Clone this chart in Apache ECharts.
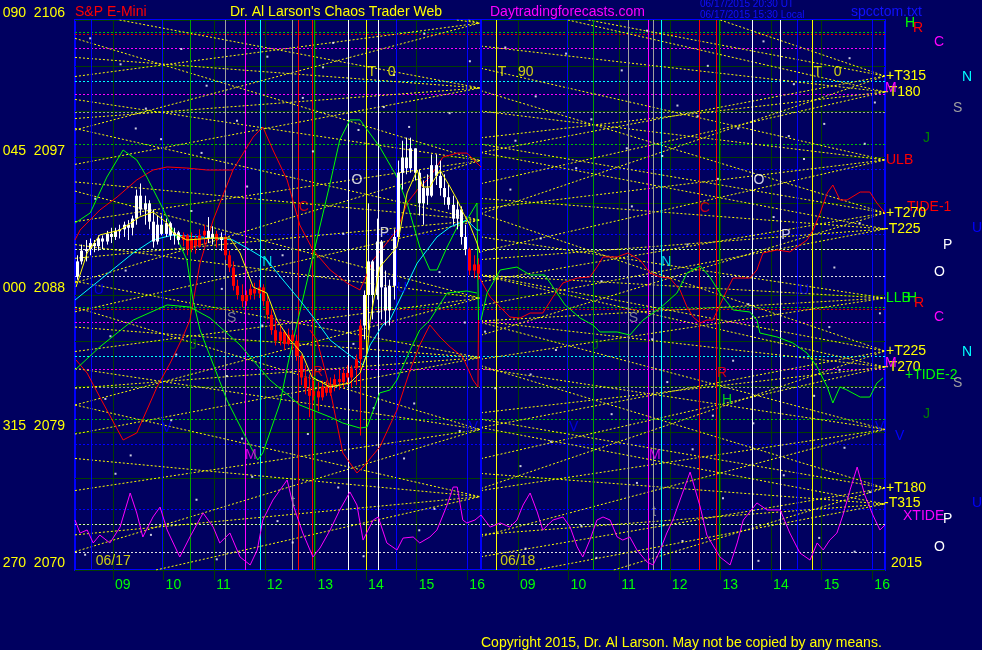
<!DOCTYPE html>
<html><head><meta charset="utf-8">
<script src="https://cdn.jsdelivr.net/npm/echarts@6/dist/echarts.min.js"></script>
<style>html,body{margin:0;padding:0;background:#000060;}#c{width:982px;height:650px;}</style>
</head><body><div id="c"></div>
<script>
// ---------------- DATA ----------------
const hourTicks = [0.75,1.75,2.75,3.75,4.75,5.75,6.75,7.75,8.75,9.75,10.75,11.75,12.75,13.75,14.75,15.75];
const hourLabels = ['09','10','11','12','13','14','15','16','09','10','11','12','13','14','15','16'];
const yLabelValues = [2070, 2079, 2088, 2097, 2106];
const yLabelPrefixes = ['270', '315', '000', '045', '090'];

// 5-minute bars of 06/17: [open, close, low, high]
const day1Bars = [
[2089.2,2090.2,2089.0,2090.6],[2090.2,2090.9,2090.0,2091.3],[2090.9,2091.0,2090.2,2091.6],[2091.0,2091.4,2090.6,2091.7],
[2091.4,2091.2,2090.8,2091.6],[2091.2,2091.7,2090.9,2091.9],[2091.7,2091.5,2091.0,2091.9],[2091.5,2092.0,2091.3,2092.2],
[2092.0,2091.8,2091.4,2092.4],[2091.8,2092.2,2091.6,2092.4],[2092.2,2092.3,2091.7,2092.6],[2092.3,2092.6,2091.8,2092.8],
[2092.6,2092.4,2091.6,2092.9],[2092.4,2093.0,2091.9,2093.2],[2093.0,2094.5,2092.6,2094.9],[2094.5,2093.6,2093.2,2095.3],
[2093.6,2094.0,2092.6,2094.5],[2094.0,2092.8,2092.3,2094.2],[2092.8,2091.5,2091.1,2093.6],[2091.5,2092.6,2091.3,2093.2],
[2092.6,2092.0,2091.9,2093.2],[2092.0,2092.7,2091.8,2093.0],[2092.7,2091.9,2091.6,2092.8],[2091.9,2092.1,2091.3,2092.4],
[2092.1,2091.6,2091.3,2092.2],[2091.6,2091.9,2091.2,2092.1],[2091.9,2091.0,2090.6,2092.0],[2091.0,2091.7,2090.8,2092.1],
[2091.7,2091.2,2090.7,2091.9],[2091.2,2091.9,2091.1,2092.3],[2091.9,2092.2,2091.3,2092.6],[2092.2,2091.7,2091.4,2093.1],
[2091.7,2092.0,2091.3,2092.5],[2092.0,2091.6,2091.1,2092.2],[2091.6,2091.8,2090.9,2092.1],[2091.8,2090.6,2090.3,2091.9],
[2090.6,2089.8,2089.5,2090.9],[2089.8,2088.6,2088.3,2090.2],[2088.6,2088.0,2087.7,2089.0],[2088.0,2087.6,2087.2,2088.7],
[2087.6,2088.0,2087.3,2088.3],[2088.0,2088.4,2087.7,2088.7],[2088.4,2088.1,2087.7,2088.8],[2088.1,2088.5,2087.8,2089.0],
[2088.5,2087.6,2087.3,2088.7],[2087.6,2086.7,2086.4,2088.0],[2086.7,2085.7,2085.4,2087.0],[2085.7,2085.0,2084.7,2086.4],
[2085.0,2085.6,2084.7,2086.0],[2085.6,2084.8,2084.4,2085.7],[2084.8,2085.4,2084.7,2085.8],[2085.4,2085.0,2084.4,2085.7],
[2085.0,2084.0,2083.7,2085.4],[2084.0,2082.6,2082.1,2084.1],[2082.6,2081.9,2081.5,2083.4],[2081.9,2081.4,2080.0,2082.8],
[2081.4,2081.7,2081.1,2082.4],[2081.7,2081.3,2080.4,2082.3],[2081.3,2082.0,2081.1,2082.4],[2082.0,2081.6,2081.4,2082.4],
[2081.6,2082.1,2081.4,2082.6],[2082.1,2082.5,2081.7,2082.8],[2082.5,2082.3,2081.8,2083.1],[2082.3,2082.9,2081.9,2083.2],
[2082.9,2082.6,2082.1,2083.4],[2082.6,2083.2,2081.9,2083.4],[2083.2,2083.8,2082.1,2084.1],[2083.8,2086.0,2078.8,2086.4],
[2086.0,2088.0,2085.1,2088.3],[2088.0,2090.2,2085.7,2094.0],[2090.2,2088.0,2086.4,2090.3],[2088.0,2091.5,2087.7,2093.0],
[2091.5,2088.5,2086.4,2091.6],[2088.5,2087.0,2086.0,2089.6],[2087.0,2088.6,2086.0,2089.0],[2088.6,2091.8,2087.7,2092.3],
[2091.8,2096.0,2091.5,2096.8],[2096.0,2097.0,2094.9,2098.1],[2097.0,2096.3,2095.9,2098.3],[2096.3,2097.6,2096.0,2098.3],
[2097.6,2096.0,2095.5,2097.6],[2096.0,2094.0,2093.2,2096.2],[2094.0,2095.0,2092.6,2095.5],[2095.0,2094.5,2093.9,2095.9],
[2094.5,2096.5,2094.4,2097.2],[2096.5,2095.8,2095.2,2097.2],[2095.8,2095.0,2094.5,2096.8],[2095.0,2094.4,2093.9,2095.9],
[2094.4,2093.9,2093.6,2095.2],[2093.9,2093.0,2092.6,2094.5],[2093.0,2093.6,2092.3,2094.2],[2093.6,2091.8,2091.3,2093.8],
[2091.8,2091.0,2090.6,2092.6],[2091.0,2089.6,2089.3,2091.1],[2089.6,2090.0,2089.1,2090.6],[2090.0,2089.4,2089.0,2090.4]
];
// trend state per bar: W = up-trend (white), R = down-trend (red)
const day1Trend = 'WWWWWWWWWWWWWWWWWWWWWWWWWRRRRRRWWRWRRRRRRRRRRRRRRRRRRRRRRRRRRRRRRRRRWWWWWWWWWWWWWWWWWWWWWWWWWRRR';
const barMinutes = 5;

// curves: [hour index, price]
const yellowLine = [[0.02,2088.52],[0.24,2090.75],[0.49,2091.93],[0.89,2092.25],[1.28,2093.11],[1.54,2093.43],[1.82,2092.71],[1.94,2092.06],[2.21,2091.60],[2.73,2091.73],[3.06,2091.73],[3.26,2090.75],[3.52,2088.52],[3.79,2088.13],[3.99,2086.36],[4.25,2085.05],[4.48,2084.20],[4.68,2082.63],[5.04,2081.98],[5.43,2082.24],[5.63,2082.89],[5.77,2084.20],[5.83,2086.36],[6.02,2089.83],[6.36,2091.14],[6.56,2094.68],[6.76,2096.18],[6.87,2095.07],[7.01,2095.07],[7.21,2096.18],[7.41,2095.07],[7.55,2094.22],[7.66,2093.43],[7.80,2092.58],[7.94,2091.40],[8.00,2090.75]];
const cyanLine = [[0,2087.67],[0.49,2088.98],[1.15,2090.75],[1.54,2091.60],[1.94,2091.93],[2.47,2091.80],[3.12,2091.60],[3.46,2090.95],[3.79,2090.29],[4.11,2088.98],[4.44,2087.67],[4.78,2086.23],[5.04,2085.05],[5.37,2084.20],[5.69,2083.42],[5.83,2084.73],[6.08,2086.04],[6.22,2086.36],[6.76,2090.09],[7.15,2091.80],[7.41,2092.45],[7.74,2092.91],[7.94,2092.25],[8.00,2092.25]];
const greenUpper = [[0,2092.71],[0.30,2093.37],[0.63,2095.72],[0.95,2097.49],[1.22,2096.84],[1.42,2095.72],[1.68,2094.02],[1.94,2092.25],[2.21,2090.29],[2.33,2087.67],[2.47,2085.71],[3.00,2081.13],[3.40,2078.51],[3.61,2077.20],[3.71,2077.66],[4.05,2080.93],[4.21,2083.55],[4.31,2085.05],[5.04,2095.33],[5.23,2098.15],[5.43,2099.46],[5.63,2099.46],[6.02,2097.69],[6.36,2095.72],[6.56,2094.02],[6.81,2091.14],[7.01,2089.64],[7.15,2089.64],[7.35,2091.14],[7.55,2092.45],[7.74,2092.91],[7.94,2094.02],[7.97,2086.36]];
const greenLower = [[0,2083.09],[0.49,2084.60],[1.15,2086.36],[1.82,2087.35],[2.27,2087.21],[2.67,2086.49],[3.26,2084.73],[3.85,2082.44],[4.44,2080.80],[5.04,2080.01],[5.29,2079.62],[5.63,2079.29],[5.77,2079.36],[6.02,2081.59],[6.22,2081.78],[6.36,2082.44],[6.62,2084.40],[6.81,2085.71],[7.01,2086.36],[7.35,2088.13],[7.74,2088.26],[7.94,2088.13]];
const greenDay2 = [[8.02,2086.36],[8.14,2088.13],[8.40,2089.64],[8.73,2089.83],[8.99,2089.31],[9.28,2089.31],[9.48,2088.33],[9.68,2087.35],[9.98,2086.49],[10.23,2086.04],[10.37,2085.58],[10.71,2085.58],[10.96,2085.38],[11.22,2086.36],[11.56,2087.15],[11.89,2088.13],[12.09,2089.44],[12.35,2089.90],[12.54,2089.18],[12.74,2088.13],[13.00,2087.02],[13.33,2086.89],[13.47,2086.36],[13.53,2085.51],[13.87,2085.25],[14.18,2084.86],[14.46,2084.20],[14.66,2083.29],[14.86,2081.98],[14.97,2080.93],[15.11,2081.98],[15.25,2081.78],[15.51,2081.32],[15.70,2081.32],[15.84,2082.24],[15.96,2082.57]];
const redMain = [[0.02,2083.75],[0.24,2082.89],[0.49,2081.32],[0.95,2078.51],[1.22,2078.97],[1.42,2080.47],[1.62,2081.98],[1.88,2083.55],[2.13,2085.25],[2.27,2086.36],[2.47,2090.09],[2.73,2092.91],[3.12,2096.18],[3.52,2098.34],[3.71,2099.00],[3.91,2097.49],[4.19,2095.53],[4.44,2092.58],[4.70,2090.95],[5.04,2089.64],[5.37,2088.79],[5.63,2088.33],[5.89,2090.29],[6.36,2092.25],[6.56,2094.02],[6.76,2094.87],[7.01,2095.72],[7.27,2097.03],[7.55,2097.29],[7.74,2097.29],[7.94,2096.64],[8.02,2096.38]];
const redLow = [[4.64,2085.71],[4.78,2085.05],[5.04,2081.78],[5.29,2077.66],[5.57,2076.35],[5.69,2076.74],[6.02,2078.05],[6.36,2080.47],[6.62,2083.09],[6.81,2084.73],[7.01,2086.04],[7.21,2085.25],[7.41,2084.60],[7.66,2083.94],[7.86,2082.44],[7.96,2081.98],[7.97,2086.36]];
const redArc = [[0,2091.60],[0.10,2092.25],[0.49,2093.56],[0.83,2094.41],[1.22,2095.53],[1.54,2096.18],[1.82,2096.38],[2.21,2096.31],[2.61,2096.18],[2.86,2096.18],[3.12,2096.18]];
const redDay2 = [[7.98,2089.18],[8.20,2087.87],[8.40,2087.21],[8.59,2086.56],[8.79,2086.49],[8.99,2086.82],[9.24,2086.82],[9.44,2087.87],[9.64,2088.79],[9.92,2089.11],[10.17,2089.18],[10.31,2089.83],[10.43,2090.49],[10.71,2090.49],[10.92,2090.75],[11.16,2090.29],[11.36,2089.44],[11.56,2089.18],[11.75,2089.11],[11.95,2088.33],[12.09,2087.21],[12.21,2086.56],[12.35,2086.16],[12.48,2086.36],[12.60,2086.36],[12.88,2088.33],[13.00,2089.11],[13.33,2089.11],[13.47,2089.64],[13.59,2090.75],[13.87,2090.95],[14.12,2090.82],[14.26,2091.14],[14.46,2091.60],[14.58,2092.25],[14.72,2093.37],[14.86,2094.68],[14.97,2095.20],[15.11,2094.22],[15.25,2094.22],[15.51,2094.74],[15.70,2094.74],[15.84,2094.02],[16.00,2093.37]];
const xtide = [[0.0,2073.27],[0.10,2072.42],[0.24,2072.62],[0.36,2071.77],[0.49,2072.29],[0.69,2071.77],[0.89,2072.81],[1.09,2075.04],[1.22,2073.73],[1.34,2072.16],[1.54,2073.47],[1.68,2074.12],[1.82,2072.62],[2.07,2070.85],[2.27,2072.16],[2.53,2073.73],[2.73,2072.81],[2.86,2071.77],[3.06,2072.42],[3.26,2070.85],[3.46,2070.33],[3.60,2071.31],[3.71,2073.27],[3.91,2074.58],[4.19,2075.89],[4.31,2074.25],[4.50,2072.42],[4.70,2070.85],[4.84,2071.44],[5.04,2072.62],[5.23,2073.93],[5.43,2075.11],[5.57,2074.25],[5.69,2071.96],[5.89,2073.27],[5.99,2073.47],[6.16,2071.77],[6.36,2071.31],[6.48,2072.09],[6.68,2072.16],[6.81,2071.77],[7.01,2072.16],[7.15,2072.62],[7.35,2074.25],[7.47,2075.43],[7.55,2075.43],[7.66,2073.27],[7.74,2073.08],[7.90,2073.27],[8.02,2073.60],
[8.20,2072.81],[8.40,2073.08],[8.59,2072.81],[8.73,2073.27],[8.85,2074.25],[8.99,2075.04],[9.13,2073.80],[9.24,2072.62],[9.44,2073.27],[9.64,2073.47],[9.78,2072.81],[9.92,2071.51],[10.03,2070.85],[10.17,2071.96],[10.31,2073.27],[10.43,2073.47],[10.57,2073.27],[10.71,2072.16],[10.82,2071.96],[10.96,2072.16],[11.10,2071.31],[11.30,2070.52],[11.42,2070.33],[11.56,2071.31],[11.69,2072.42],[11.81,2073.27],[11.95,2074.58],[12.15,2076.41],[12.35,2074.12],[12.48,2072.29],[12.74,2070.85],[12.94,2070.33],[13.08,2071.77],[13.20,2073.27],[13.33,2073.80],[13.47,2074.39],[13.67,2073.93],[13.93,2073.93],[14.12,2072.42],[14.32,2071.11],[14.52,2070.65],[14.66,2071.77],[14.78,2071.31],[14.91,2071.96],[15.05,2072.42],[15.17,2073.60],[15.31,2075.24],[15.45,2076.74],[15.60,2074.91],[15.76,2073.60],[15.90,2072.62],[16.00,2072.95]];

// vertical event lines (hour index)
const vBlue = [0.32, 1.72, 6.34, 7.74, 9.72, 14.26, 15.74];
const vGreen = [2.27, 4.72, 10.23, 12.72];
const vGray = [2.96, 4.29, 10.92, 11.42];
const vMagenta = [3.36, 11.32];
const vCyan = [3.65, 11.58];
const vRed = [4.40, 4.68, 12.33, 12.66];
const vWhite = [5.39, 5.99, 13.37, 13.93];
const vYellow = [5.75, 8.32, 14.56];
const daySeparator = [8.02];

// horizontal dotted levels (price)
const hGreen = [2105.21, 2097.88, 2087.21, 2079.88];
const hRed = [2105.08, 2087.08];
const hMagenta = [2104.17, 2101.16, 2086.23, 2083.16];
const hCyan = [2102.01, 2084.01];
const hGray = [2099.98, 2081.98];
const hBlue = [2096.25, 2091.99, 2078.25, 2073.99];
const hWhite = [2091.01, 2089.24, 2073.01, 2071.18];

// clamshell lines: converge at the day end on these levels, open by these spreads at day start
const clamDay1Levels = [2105.8, 2101.55, 2096.8, 2092.9, 2087.8, 2083.9, 2079.2, 2074.8];
const clamDay1SpreadA = [3.5, 5, 4, 6, 3.5, 5, 4, 6];
const clamDay1SpreadB = [7, 2, 8, 2.5, 7, 2, 8, 2.5];
const clamDay2Levels = [2102.33, 2101.29, 2096.84, 2093.37, 2092.32, 2087.8, 2084.33, 2083.29, 2079.2, 2075.37, 2074.32];
const clamDay2SpreadA = [5, 3, 3.2, 4.5, 2, 1.5, 5, 3, 7, 4.5, 2];
const clamDay2SpreadB = [9, 6, 6, 8, 5, 4, 9, 6, 4, 8, 5];

// scattered tick dots
const dots = [[0.3,2104.8],[0.9,2103.1],[1.4,2100.2],[2.1,2104.1],[2.6,2101.7],[3.2,2099.4],[3.8,2103.6],[4.5,2100.9],[5.1,2104.5],[5.6,2098.8],[6.3,2102.4],[6.9,2105.1],[7.4,2099.9],[7.8,2103.3],[8.5,2104.2],[9.1,2101.0],[9.7,2103.8],[10.2,2099.5],[10.8,2102.7],[11.3,2105.3],[11.9,2100.4],[12.5,2103.0],[13.1,2098.9],[13.6,2104.6],[14.2,2101.8],[14.8,2099.2],[15.3,2103.5],[15.8,2100.6],
[0.6,2081.2],[1.1,2077.5],[1.9,2079.8],[2.4,2074.6],[3.0,2082.7],[3.5,2076.1],[4.0,2073.2],[4.6,2078.9],[5.2,2075.4],[5.9,2080.6],[6.5,2077.3],[7.1,2074.0],[7.6,2079.1],[8.3,2081.9],[8.8,2076.8],[9.4,2078.4],[10.0,2072.9],[10.6,2080.2],[11.1,2075.7],[11.7,2082.3],[12.2,2077.9],[12.8,2074.7],[13.4,2079.6],[14.0,2076.2],[14.6,2081.4],[15.2,2078.0],[15.7,2075.1],
[0.4,2094.3],[1.0,2089.6],[1.7,2098.2],[2.3,2093.5],[2.9,2088.4],[3.4,2095.1],[4.1,2090.6],[4.7,2097.4],[5.3,2092.0],[6.0,2086.9],[6.6,2099.0],[7.2,2089.5],[7.7,2086.2],[8.6,2094.9],[9.2,2091.7],[9.9,2096.3],[10.4,2088.9],[11.0,2093.8],[11.6,2097.1],[12.1,2091.3],[12.7,2095.6],[13.3,2087.4],[13.8,2093.1],[14.4,2096.9],[15.0,2089.8],[15.5,2092.7],[15.9,2086.8],[0.7,2085.3],[2.0,2084.1],[3.7,2086.0],[5.5,2084.8],[8.1,2085.6],[9.5,2084.4],[11.4,2085.1],[13.0,2083.7],[14.9,2085.9],
[0.2,2071.0],[1.5,2072.3],[2.8,2070.7],[4.3,2071.8],[5.7,2070.9],[6.8,2072.6],[8.9,2071.4],[10.3,2070.8],[12.0,2071.9],[13.5,2070.6],[14.7,2072.1],[15.4,2071.2],
[1.2,2098.9],[2.5,2097.3],[4.9,2102.9],[6.1,2100.3],[8.7,2098.1],[10.9,2097.6],[12.3,2099.7],[14.1,2098.4],[15.6,2097.9],[0.8,2076.3],[3.3,2078.6],[6.7,2080.9],[9.0,2082.8],[12.6,2080.1],[15.1,2083.1]];

// in-chart letters: [hour index, price, text]
const whiteLetters = [[5.46,2095.53,'O'],[6.02,2092.06,'P'],[13.40,2095.53,'O'],[13.95,2091.93,'P']];
const cyanLetters = [[3.70,2090.16,'N'],[11.58,2090.16,'N']];
const grayLetters = [[3.00,2086.49,'S'],[10.94,2086.49,'S'],[4.27,2074.45,'t'],[11.40,2073.8,'t']];
const magentaLetters = [[3.36,2077.53,'M'],[11.34,2077.53,'M']];
const blueLetters = [[0.37,2088.33,'U'],[6.36,2088.46,'U'],[14.30,2088.33,'U'],[1.72,2079.29,'V'],[7.78,2079.36,'V'],[9.76,2079.36,'V'],[15.80,2079.36,'V']];
const redLetters = [[4.42,2093.76,'C'],[12.34,2093.69,'C'],[4.70,2082.96,'R'],[12.68,2082.89,'R']];
const darkGreenLetters = [[2.27,2084.73,'J'],[10.21,2084.73,'J']];
const greenLetters = [[12.78,2081.13,'H']];
const yellowTexts = [[5.78,2102.6,'T   0'],[8.35,2102.6,'T   90'],[14.59,2102.6,'T   0'],[0.41,2070.55,'06/17'],[8.40,2070.55,'06/18']];

// ---------------- BUILD ----------------
const YMIN = 2070, YMAX = 2106, XMIN = 0, XMAX = 16;
const FONT = '"Liberation Sans", Arial, sans-serif';

function clipSeg(t1,p1,t2,p2){
  let a=0,b=1; const dp=p2-p1;
  if(dp!==0){const ta=(YMIN-p1)/dp, tb=(YMAX-p1)/dp; a=Math.max(a,Math.min(ta,tb)); b=Math.min(b,Math.max(ta,tb));}
  else if(p1<YMIN||p1>YMAX) return null;
  if(a>=b) return null;
  return [[t1+(t2-t1)*a,p1+dp*a],[t1+(t2-t1)*b,p1+dp*b]];
}
const clamData = [];
function addClams(s,e,levels,sa,sb){
  levels.forEach((L,k)=>{
    [sa[k],sb[k]].forEach(w=>{
      [1,-1].forEach(sg=>{
        const c=clipSeg(s,L+sg*w,e,L); if(c) clamData.push({coords:c});
      });
    });
  });
}
addClams(0,8,clamDay1Levels,clamDay1SpreadA,clamDay1SpreadB);
addClams(8.02,16,clamDay2Levels,clamDay2SpreadA,clamDay2SpreadB);

function hLines(arr){return arr.map(p=>({coords:[[XMIN,p],[XMAX,p]]}));}
function vLines(arr){return arr.map(t=>({coords:[[t,YMIN],[t,YMAX]]}));}

function linesSeries(data,color,width,type,z){
  return {type:'lines',coordinateSystem:'cartesian2d',polyline:false,silent:true,z:z,animation:false,
    lineStyle:{color:color,width:width,type:type,opacity:1},data:data};
}
function curve(data,color,z){
  return {type:'line',data:data,showSymbol:false,symbol:'none',silent:true,z:z||5,animation:false,
    lineStyle:{color:color,width:1},itemStyle:{color:color}};
}
function letters(data,color,size){
  return {type:'scatter',data:data,symbolSize:0,silent:true,z:8,animation:false,
    label:{show:true,position:'right',distance:0,formatter:p=>p.value[2],color:color,fontSize:size||14,fontFamily:FONT}};
}

const candleData = day1Bars.map((b,i)=>[(i+0.5)*barMinutes/60,b[0],b[1],b[2],b[3],day1Trend[i]==='W'?1:0]);

const series = [
  linesSeries(vLines(hourTicks),'#033c03',1,'solid',1),
  linesSeries(hLines(hWhite),'#e0e0e0',1,[2,2],2),
  linesSeries(hLines(hGray),'#a0a0a0',1,[2,2],2),
  linesSeries(hLines(hBlue),'#0000ff',1,[2,2],2),
  linesSeries(hLines(hGreen),'#00c000',1,[2,2],2),
  linesSeries(hLines(hRed),'#e00000',1,[2,2],2),
  linesSeries(hLines(hMagenta),'#ff00ff',1,[2,2],2),
  linesSeries(hLines(hCyan),'#00ffff',1,[2,2],2),
  linesSeries(clamData,'#ffff00',1,[2,2],3),
  linesSeries(vLines(vBlue),'#0000ff',1,'solid',4),
  linesSeries(vLines(vGreen),'#00a000',1,'solid',4),
  linesSeries(vLines(vGray),'#a0a0a0',1,'solid',4),
  linesSeries(vLines(vMagenta),'#ff00ff',1,'solid',4),
  linesSeries(vLines(vCyan),'#00ffff',1,'solid',4),
  linesSeries(vLines(vRed),'#ff0000',1,'solid',4),
  linesSeries(vLines(vWhite),'#ffffff',1,'solid',4),
  linesSeries(vLines(vYellow),'#ffff00',1,'solid',4),
  linesSeries(vLines(daySeparator),'#0000ff',2,'solid',4),
  {type:'scatter',data:dots,symbol:'rect',symbolSize:2,itemStyle:{color:'#ffffff'},silent:true,z:4,animation:false},
  curve(xtide,'#ff00ff'),
  curve(redArc,'#ff0000'),
  curve(redMain,'#ff0000'),
  curve(redLow,'#ff0000'),
  curve(redDay2,'#ff0000'),
  curve(greenUpper,'#00ff00'),
  curve(greenLower,'#00ff00'),
  curve(greenDay2,'#00ff00'),
  curve(cyanLine,'#00ffff'),
  {type:'custom',data:candleData,silent:true,z:6,animation:false,
   renderItem:function(params,api){
     const x=api.value(0),o=api.value(1),c=api.value(2),l=api.value(3),h=api.value(4);
     const col=api.value(5)===1?'#ffffff':'#ff0000';
     const pO=api.coord([x,o]),pC=api.coord([x,c]),pL=api.coord([x,l]),pH=api.coord([x,h]);
     const top=Math.min(pO[1],pC[1]);
     return {type:'group',children:[
       {type:'line',shape:{x1:Math.round(pL[0])+0.5,y1:pL[1],x2:Math.round(pH[0])+0.5,y2:pH[1]},style:{stroke:col,lineWidth:1}},
       {type:'rect',shape:{x:Math.round(pO[0])-1,y:top,width:3,height:Math.max(2,Math.abs(pO[1]-pC[1]))},style:{fill:col}}
     ]};
   }},
  curve(yellowLine,'#ffff00',7),
  letters(whiteLetters,'#ffffff'),
  letters(cyanLetters,'#00ffff'),
  letters(grayLetters,'#a0a0a0'),
  letters(magentaLetters,'#ff00ff'),
  letters(blueLetters,'#0000ff'),
  letters(redLetters,'#ff0000'),
  letters(darkGreenLetters,'#008000'),
  letters(greenLetters,'#00ff00'),
  letters(yellowTexts,'#ffff00')
];

function txt(x,y,s,color,size){
  return {type:'text',x:x,y:y,silent:true,z:100,
    style:{text:s,fill:color,font:(size||14)+'px '+FONT,textVerticalAlign:'middle',verticalAlign:'middle'}};
}
const Y='#ffff00',R='#ff0000',G='#00ff00',M='#ff00ff',C='#00ffff',GR='#a0a0a0',DG='#008000',B='#0000ff',W='#ffffff';
const graphics = [
  txt(75,12,'S&P E-Mini',R), txt(230,12,"Dr. Al Larson's Chaos Trader Web",Y), txt(490,12,'Daytradingforecasts.com',M),
  txt(700,4,'06/17/2015 20:30 UT','#1010ff',10), txt(700,15,'06/17/2015 15:30 Local','#1010ff',10), txt(851,12,'spcctom.txt','#1010ff',14),
  txt(481,643,'Copyright 2015, Dr. Al Larson. May not be copied by any means.',Y),
  txt(905,23,'H',G), txt(913,28,'R',R), txt(934,42,'C',M), txt(962,77,'N',C),
  txt(886,76,'+T315',Y), txt(884,92,'-T180',Y), txt(885,88,'M',M), txt(953,108,'S',GR), txt(923,138,'J',DG),
  txt(886,160,'ULB',R), txt(907,207,'TIDE-1',R), txt(886,213,'+T270',Y), txt(884,229,'-T225',Y),
  txt(972,228,'U',B), txt(943,245,'P',W), txt(934,272,'O',W),
  txt(886,298,'LLB',G), txt(907,298,'H',G), txt(914,303,'R',R), txt(934,317,'C',M),
  txt(886,351,'+T225',Y), txt(962,352,'N',C), txt(884,367,'-T270',Y), txt(885,363,'M',M), txt(905,375,'+TIDE-2',G),
  txt(953,383,'S',GR), txt(923,414,'J',DG), txt(895,436,'V',B),
  txt(886,488,'+T180',Y), txt(884,503,'-T315',Y), txt(972,503,'U',B), txt(903,516,'XTIDE',M),
  txt(943,519,'P',W), txt(934,547,'O',W), txt(891,563,'2015',Y)
];

const option = {
  backgroundColor:'#000060',
  animation:false,
  grid:{left:75,right:97,top:20,bottom:80,containLabel:false,outerBoundsMode:'none',show:true,borderColor:'#0000ff',borderWidth:2,backgroundColor:'transparent'},
  xAxis:{type:'value',min:XMIN,max:XMAX,
    axisLine:{show:false},
    splitLine:{show:false},
    axisTick:{show:true,customValues:hourTicks,length:10,lineStyle:{color:'#033c03'}},
    axisLabel:{show:true,customValues:hourTicks,margin:8,align:'left',padding:[0,0,0,2],color:'#00ff00',fontSize:14,fontFamily:FONT,
      formatter:function(v){const i=hourTicks.findIndex(t=>Math.abs(t-v)<1e-6);return i>=0?hourLabels[i]:'';}}
  },
  yAxis:{type:'value',min:YMIN,max:YMAX,interval:3,
    axisLine:{show:false},axisTick:{show:false},
    splitLine:{show:true,lineStyle:{color:'#033c03',width:1}},
    axisLabel:{show:true,margin:10,color:'#ffff00',fontSize:14,fontFamily:FONT,verticalAlign:'bottom',lineHeight:13,
      formatter:function(v){const i=yLabelValues.indexOf(Math.round(v));return i>=0?yLabelPrefixes[i]+'  '+Math.round(v):'';}}
  },
  graphic:graphics,
  series:series
};
const chart = echarts.init(document.getElementById('c'),null,{renderer:'canvas'});
chart.setOption(option);
</script>
</body></html>
